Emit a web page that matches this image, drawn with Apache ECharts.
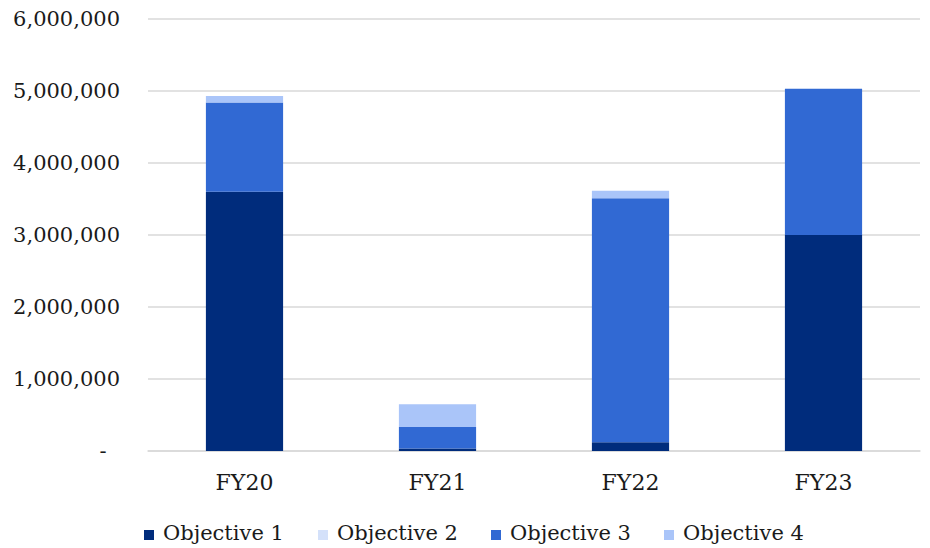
<!DOCTYPE html>
<html>
<head>
<meta charset="utf-8">
<script src="https://cdn.jsdelivr.net/npm/echarts@6/dist/echarts.min.js"></script>
<style>html,body{margin:0;padding:0;background:#fff;}#c{width:930px;height:548px;}</style>
</head>
<body>
<div id="c"></div>
<script>
const categories = ['FY20', 'FY21', 'FY22', 'FY23'];
const objective1 = [3600000, 35000, 120000, 3000000];
const objective2 = [0, 0, 0, 0];
const objective3 = [1240000, 300000, 3390000, 2030000];
const objective4 = [90000, 315000, 105000, 0];
const yTicks = { min: 0, max: 6000000, interval: 1000000 };

const seriesNames = ['Objective 1', 'Objective 2', 'Objective 3', 'Objective 4'];
const seriesData = [objective1, objective2, objective3, objective4];
const colors = ['#002C7C', '#D4E1FA', '#3169D3', '#AAC5F9'];
const font = "'DejaVu Serif', serif";

// legend layout (positions in px)
const legendMarkerX = [144, 318, 491, 664];
const legendY = 533;

const legendGraphics = [];
seriesNames.forEach((n, i) => {
  legendGraphics.push({
    type: 'rect', silent: true,
    shape: { x: legendMarkerX[i], y: legendY - 3, width: 10, height: 10 },
    style: { fill: colors[i] }
  });
  legendGraphics.push({
    type: 'text', silent: true,
    x: legendMarkerX[i] + 19, y: legendY,
    style: { text: n, font: "21px 'DejaVu Serif', serif", fill: '#1a1a1a', verticalAlign: 'middle', align: 'left' }
  });
});

const chart = echarts.init(document.getElementById('c'), null, { renderer: 'svg' });
chart.setOption({
  animation: false,
  color: colors,
  textStyle: { fontFamily: font },
  grid: { left: 148, right: 10, top: 19, bottom: 97, containLabel: false },
  graphic: legendGraphics,
  xAxis: {
    type: 'category',
    data: categories,
    axisLine: { show: true, lineStyle: { color: '#d9d9d9', width: 1.5 } },
    axisTick: { show: false },
    axisLabel: { fontFamily: font, fontSize: 22, color: '#1a1a1a', margin: 20 }
  },
  yAxis: {
    type: 'value',
    min: yTicks.min,
    max: yTicks.max,
    interval: yTicks.interval,
    axisLine: { show: false },
    axisTick: { show: false },
    splitLine: { lineStyle: { color: '#d9d9d9', width: 1.5 } },
    axisLabel: {
      fontFamily: font, fontSize: 21, color: '#1a1a1a', margin: 28,
      formatter: v => v === 0 ? '-\u00a0\u00a0' : v.toLocaleString('en-US')
    }
  },
  series: seriesNames.map((n, i) => ({
    name: n,
    type: 'bar',
    stack: 'total',
    barWidth: '40%',
    data: seriesData[i]
  }))
});
</script>
</body>
</html>
